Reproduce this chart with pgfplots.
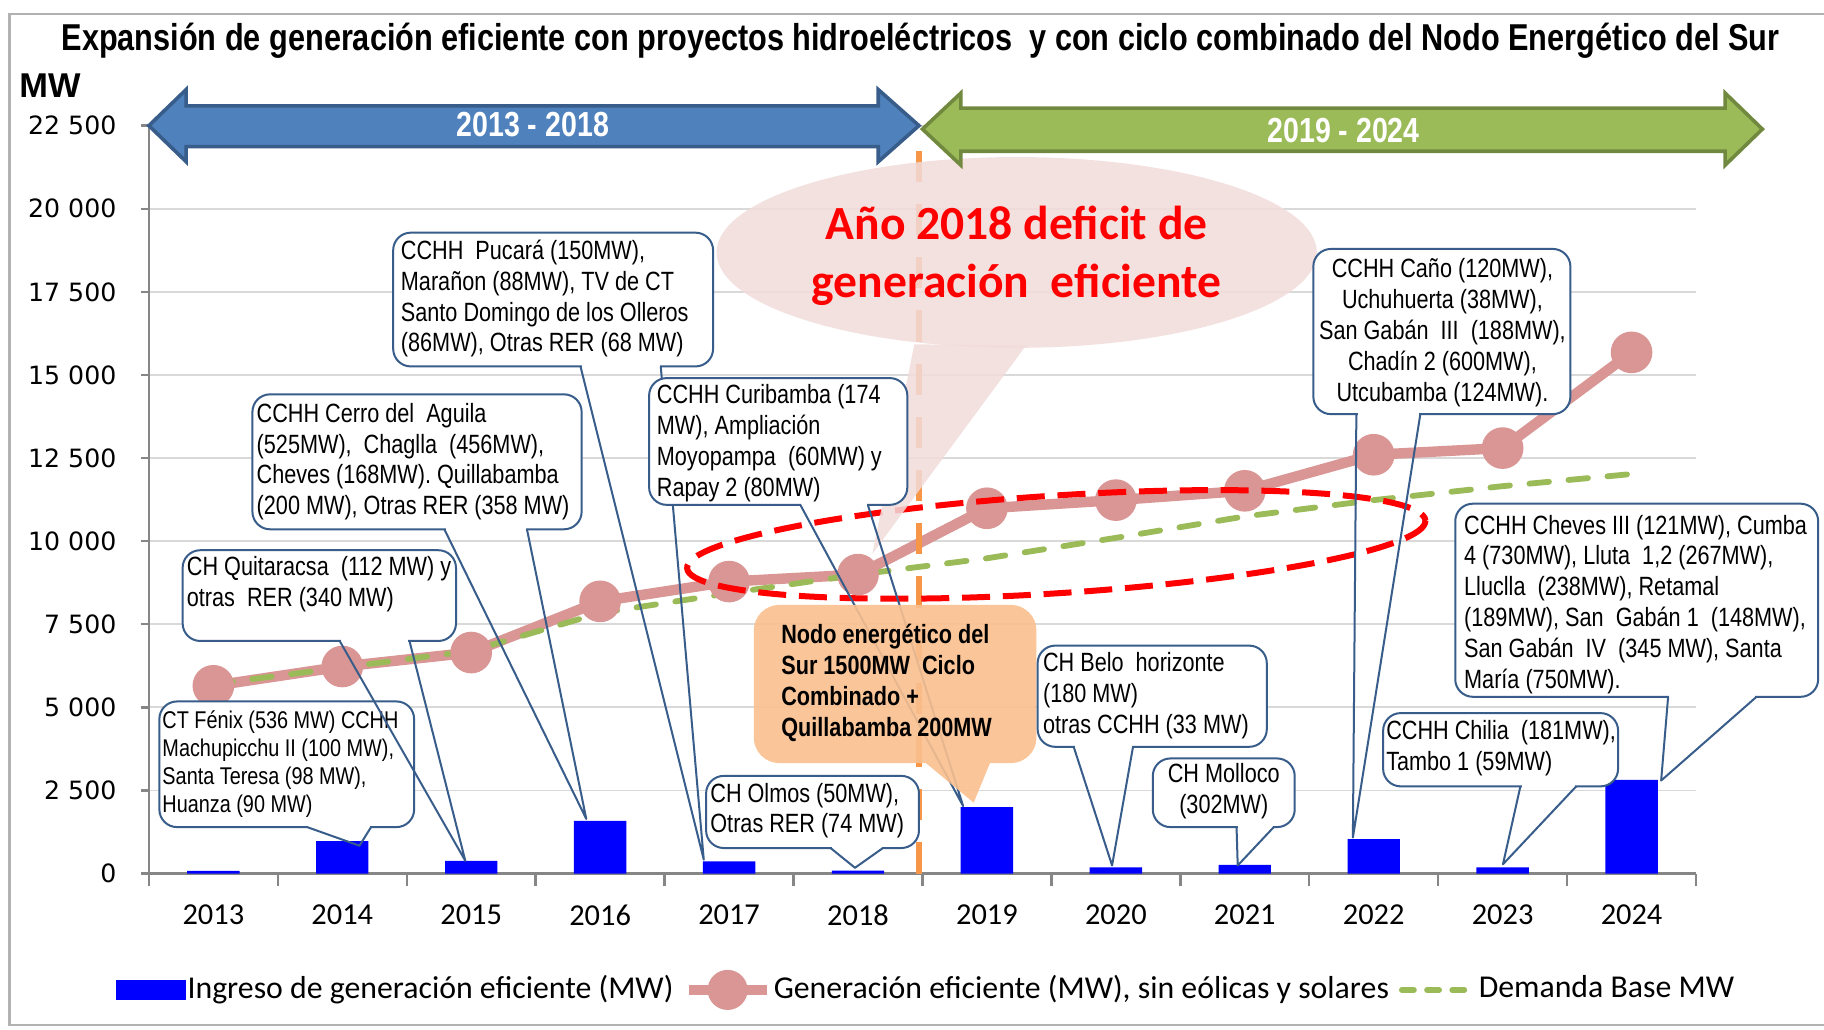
\documentclass[border=0pt]{standalone}
\usepackage{pgfplots}
\pgfplotsset{compat=1.18}
\usepackage{graphicx}
\usepackage{fontspec}
\setmainfont{Liberation Sans}
\newfontfamily\carlito{Carlito}
\newfontfamily\dejavu{DejaVu Sans}

\definecolor{barblue}{RGB}{0,0,255}
\definecolor{genpink}{RGB}{217,150,148}
\definecolor{demgreen}{RGB}{155,187,89}
\definecolor{arrblue}{RGB}{79,129,189}
\definecolor{arrblueb}{RGB}{56,93,138}
\definecolor{arrgreen}{RGB}{155,187,89}
\definecolor{arrgreenb}{RGB}{113,137,63}
\definecolor{cobord}{RGB}{56,93,138}
\definecolor{nodofill}{RGB}{250,192,143}
\definecolor{bubble}{RGB}{242,220,219}
\definecolor{vorange}{RGB}{247,150,70}
\definecolor{gridgray}{RGB}{217,217,217}
\definecolor{axgray}{RGB}{134,134,134}

% font size with matching strut (for tabular line spacing)
\newcommand{\fs}[2]{\fontsize{#1}{#2}\selectfont\setbox\strutbox\hbox{\vrule height .7\baselineskip depth .3\baselineskip width 0pt}}
% narrow (Arial Narrow look) multi-line text
\newcommand{\nar}[2][l]{\scalebox{0.82}[1]{\begin{tabular}{@{}#1@{}}#2\end{tabular}}}
% callout box: x1,y1 (top left), x2,y2 (bottom right), pointer base xa, xb, tip
\newcommand{\callout}[7]{%
  \draw[cobord, line width=0.5pt, fill=white, rounded corners=4.4pt] (#1,#2) rectangle (#3,#4);
  \fill[white] (#5+1,#4-1.5) rectangle (#6-1,#4+1.5);
  \draw[cobord, line width=0.5pt, line join=round] (#5,#4) -- (#7) -- (#6,#4);}

\begin{document}
\begin{tikzpicture}
\path[use as bounding box] (0pt,0pt) rectangle (456pt,-257.372pt);
\fill[white] (0pt,0pt) rectangle (456pt,-257.372pt);

\begin{axis}[
  at={(37.224pt,-218.403pt)}, anchor=south west,
  scale only axis, width=386.785pt, height=186.995pt,
  xmin=-0.5, xmax=11.5, ymin=0, ymax=22500,
  axis lines*=left,
  axis line style={axgray, line width=0.6pt},
  tick align=outside,
  xtick={0,...,11},
  xticklabels={2013,2014,2015,2016,2017,2018,2019,2020,2021,2022,2023,2024},
  minor xtick={-0.5,0.5,...,11.5},
  major x tick style={draw=none},
  minor tick length=3.2pt,
  major tick length=2pt,
  tick style={axgray, line width=0.6pt},
  ytick={0,2500,...,22500},
  yticklabels={0,2 500,5 000,7 500,10 000,12 500,15 000,17 500,20 000,22 500},
  scaled y ticks=false,
  ymajorgrids, grid style={gridgray, line width=0.45pt},
  xticklabel style={font={\carlito\fs{7.6}{9}}, yshift=-2.3pt},
  yticklabel style={font={\dejavu\fs{6.3}{7}}, xshift=-2.6pt},
  /pgf/number format/assume math mode=true,
  clip=false,
  legend style={at={(0.5023,-0.1555)}, anchor=center, draw=none, fill=none,
    inner sep=0pt, font={\carlito\fs{7.95}{9}}, legend columns=3,
    nodes={inner sep=0.5pt},
    /tikz/every even column/.append style={column sep=2pt}},
  legend cell align=left,
]
\addplot[ybar, bar width=13.1pt, fill=barblue, draw=none,
  legend image code/.code={\fill[barblue] (0pt,-2.6pt) rectangle (17.4pt,2.6pt);}]
  coordinates {(0,80) (1,980) (2,380) (3,1590) (4,370) (5,90) (6,2000) (7,190) (8,260) (9,1040) (10,190) (11,2820)};
\addlegendentry{Ingreso de generación eficiente (MW)}

\addplot[genpink, line width=2.6pt, mark=*, mark size=3.9pt,
  mark options={draw=none, fill=genpink},
  legend image code/.code={\draw[genpink, line width=2.6pt] (0pt,0pt) -- (19.5pt,0pt);
    \fill[genpink] (9.75pt,0pt) circle (3.7pt);}]
  coordinates {(0,5650) (1,6230) (2,6650) (3,8190) (4,8785) (5,8995) (6,10990) (7,11235) (8,11515) (9,12600) (10,12800) (11,15680)};
\addlegendentry{Generación eficiente (MW), sin eólicas y solares}

\addplot[demgreen, line width=1.45pt, line cap=round, dash pattern=on 4.9pt off 4.9pt,
  legend image code/.code={\draw[demgreen, line width=1.45pt, line cap=round,
    dash pattern=on 3pt off 3.3pt] (1pt,0pt) -- (19pt,0pt);}]
  coordinates {(0,5700) (1,6200) (2,6700) (3,7840) (4,8435) (5,8995) (6,9485) (7,10100) (8,10745) (9,11235) (10,11655) (11,12020)};
\addlegendentry{Demanda Base MW}
\end{axis}

\begin{scope}[x=0.290816pt, y=-0.290816pt]
% frame
\draw[gray!60, line width=0.6pt] (1580,12) -- (8,12) -- (8,881) -- (1580,881);
% title and unit
\node[anchor=base] at (791.3,43) {\fs{9.35}{11}\bfseries\scalebox{0.82}[1]{Expansión de generación eficiente con proyectos hidroeléctricos\ \ y con ciclo combinado del Nodo Energético del Sur}};
\node[anchor=base west, inner sep=0pt] at (16,84) {\fs{8.6}{10}\bfseries MW};

% vertical divider
\draw[vorange, line width=1.45pt, dash pattern=on 7.8pt off 5.5pt] (790,751) -- (790,112);

% red dashed ellipse
\draw[red, line width=1.5pt, dash pattern=on 7pt off 3.2pt, rotate around={3.7:(908,468)}]
  (908,468) ellipse [x radius=318, y radius=42];

% deficit bubble
\fill[bubble, opacity=0.85] (874,217) ellipse [x radius=258, y radius=82];
\fill[bubble, opacity=0.85] (786,296) -- (750,476) -- (882,297) -- cycle;
\node[align=center, text=red, font={\carlito\bfseries\fs{11.9}{14.5}}] at (874,220)
  {Año 2018 deficit de\\generación\ \ eficiente};

% callouts
\callout{137}{603}{356}{711}{264}{319}{309,727}
\node[anchor=west, inner sep=0pt, font={\fs{6.05}{7.05}}] at (139,657.5)
  {\nar{CT Fénix (536 MW) CCHH\\Machupicchu II (100 MW),\\Santa Teresa (98 MW),\\Huanza (90 MW)}};
\callout{157}{473}{392}{551}{292}{352}{400,740}
\node[anchor=west, inner sep=0pt, font={\fs{6.6}{7.7}}] at (160,503)
  {\nar{CH Quitaracsa\ \ (112 MW) y\\otras\ \ RER (340 MW)}};
\callout{217}{339}{500}{455}{382}{453}{504,704}
\node[anchor=west, inner sep=0pt, font={\fs{6.6}{7.7}}] at (220,397.5)
  {\nar{CCHH Cerro del\ \ Aguila\\(525MW),\ \ Chaglla\ \ (456MW),\\Cheves (168MW). Quillabamba\\(200 MW), Otras RER (358 MW)}};
\callout{338}{200}{613}{315}{499}{568}{605,739}
\node[anchor=west, inner sep=0pt, font={\fs{6.6}{7.7}}] at (344,257.5)
  {\nar{CCHH\ \ Pucará (150MW),\\Marañon (88MW), TV de CT\\Santo Domingo de los Olleros\\(86MW), Otras RER (68 MW)}};
\callout{558}{325}{780}{434}{688}{746}{828,693}
\node[anchor=west, inner sep=0pt, font={\fs{6.6}{7.7}}] at (564,381.5)
  {\nar{CCHH Curibamba (174\\MW), Ampliación\\Moyopampa\ \ (60MW) y\\Rapay 2 (80MW)}};
\callout{607}{667}{790}{729}{714}{759}{735,746}
\node[anchor=west, inner sep=0pt, font={\fs{6.6}{7.7}}] at (610,697.5)
  {\nar{CH Olmos (50MW),\\Otras RER (74 MW)}};

% Nodo energetico box
\fill[nodofill, opacity=0.9, rounded corners=6.4pt] (648,520) rectangle (891,656);
\fill[nodofill, opacity=0.9] (796,656) -- (837,690) -- (851,656) -- cycle;
\node[anchor=west, inner sep=0pt, font={\bfseries\fs{6.6}{7.75}}] at (671,588)
  {\nar{Nodo energético del\\Sur 1500MW\ \ Ciclo\\Combinado +\\Quillabamba 200MW}};

\callout{892}{555}{1089}{642}{923}{974}{956,744}
\node[anchor=west, inner sep=0pt, font={\fs{6.6}{7.7}}] at (896,598.5)
  {\nar{CH Belo\ \ horizonte\\(180 MW)\\otras CCHH (33 MW)}};
\callout{991}{652}{1113}{711}{1063}{1095}{1064,744}
\node[inner sep=0pt, font={\fs{6.6}{7.7}}] at (1052,680.5)
  {\nar[c]{CH Molloco\\(302MW)}};
\callout{1129}{214}{1350}{356}{1166}{1221}{1163,720}
\node[inner sep=0pt, font={\fs{6.6}{7.7}}] at (1240,286.5)
  {\nar[c]{CCHH Caño (120MW),\\Uchuhuerta (38MW),\\San Gabán\ \ III\ \ (188MW),\\Chadín 2 (600MW),\\Utcubamba (124MW).}};
\callout{1251}{433}{1563}{599}{1434}{1510}{1428,671}
\node[anchor=west, inner sep=0pt, font={\fs{6.6}{7.7}}] at (1258,520)
  {\nar{CCHH Cheves III (121MW), Cumba\\4 (730MW), Lluta\ \ 1,2 (267MW),\\Lluclla\ \ (238MW), Retamal\\(189MW), San\ \ Gabán 1\ \ (148MW),\\San Gabán\ \ IV\ \ (345 MW), Santa\\María (750MW).}};
\callout{1189}{613}{1391}{676}{1307}{1355}{1292,743}
\node[anchor=west, inner sep=0pt, font={\fs{6.6}{7.7}}] at (1191,643.5)
  {\nar{CCHH Chilia\ \ (181MW),\\Tambo 1 (59MW)}};

% period arrows
\filldraw[fill=arrblue, draw=arrblueb, line width=0.9pt, line join=miter]
  (128,108) -- (160,77) -- (160,91) -- (755,91) -- (755,77) -- (790,108)
  -- (755,139) -- (755,126) -- (160,126) -- (160,139) -- cycle;
\node[text=white, font={\bfseries\fs{8.7}{10}}] at (458,107) {\scalebox{0.82}[1]{2013 - 2018}};
\filldraw[fill=arrgreen, draw=arrgreenb, line width=0.9pt, line join=miter]
  (793,111) -- (826,80) -- (826,93) -- (1483,93) -- (1483,80) -- (1515,111)
  -- (1483,142) -- (1483,130) -- (826,130) -- (826,142) -- cycle;
\node[text=white, font={\bfseries\fs{8.7}{10}}] at (1155,112) {\scalebox{0.82}[1]{2019 - 2024}};
\end{scope}
\end{tikzpicture}
\end{document}
